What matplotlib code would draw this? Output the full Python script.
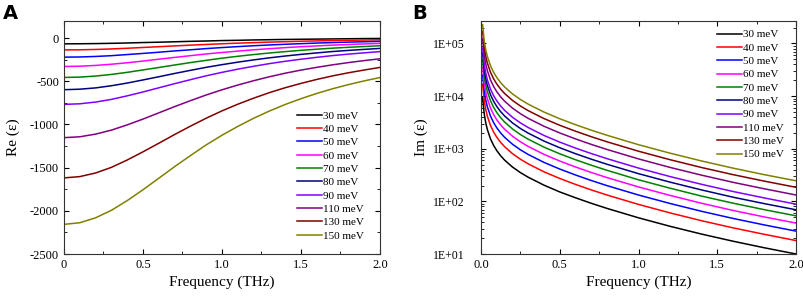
import numpy as np
from matplotlib import pyplot as plt
from matplotlib.ticker import MultipleLocator, LogLocator, FuncFormatter

plt.rcParams['font.family'] = ['Liberation Serif', 'DejaVu Serif']

# Fermi energies (legend labels)
labels = ['30 meV', '40 meV', '50 meV', '60 meV', '70 meV',
          '80 meV', '90 meV', '110 meV', '130 meV', '150 meV']
colors = ['#000000', '#ff0000', '#0000ff', '#ff00ff', '#008000',
          '#000080', '#8000ff', '#800080', '#800000', '#808000']

# Panel A: Re(eps) vs frequency (THz)
freq_re = [0.0, 0.1, 0.2, 0.3, 0.4, 0.5, 0.6, 0.7, 0.8, 0.9, 1.0,
           1.1, 1.2, 1.3, 1.4, 1.5, 1.6, 1.7, 1.8, 1.9, 2.0]
re_30 = [-67, -66, -64, -61, -57, -52, -48, -43, -38, -34, -29, -26, -22, -19, -16, -14, -12, -10, -8, -6, -5]
re_40 = [-137, -136, -132, -126, -118, -109, -100, -91, -82, -74, -66, -59, -53, -47, -42, -37, -33, -29, -26, -23, -20]
re_50 = [-221, -219, -213, -204, -191, -178, -164, -149, -136, -122, -110, -99, -89, -80, -72, -65, -58, -52, -47, -43, -38]
re_60 = [-329, -326, -317, -303, -286, -266, -245, -224, -204, -184, -167, -151, -136, -123, -111, -100, -91, -82, -75, -68, -62]
re_70 = [-456, -452, -440, -421, -397, -369, -341, -312, -284, -258, -233, -211, -191, -173, -157, -142, -129, -117, -107, -98, -89]
re_80 = [-598, -592, -577, -552, -521, -485, -448, -410, -374, -339, -308, -279, -253, -229, -208, -189, -172, -156, -143, -131, -120]
re_90 = [-768, -761, -741, -710, -669, -624, -576, -528, -482, -437, -397, -360, -327, -296, -269, -245, -223, -203, -186, -171, -157]
re_110 = [-1153, -1143, -1112, -1066, -1005, -938, -866, -794, -725, -659, -599, -544, -494, -448, -407, -371, -339, -310, -284, -261, -240]
re_130 = [-1619, -1604, -1562, -1497, -1412, -1317, -1218, -1117, -1020, -928, -843, -766, -696, -632, -575, -525, -479, -438, -402, -370, -340]
re_150 = [-2157, -2138, -2081, -1994, -1882, -1756, -1623, -1489, -1361, -1237, -1125, -1023, -929, -845, -769, -702, -641, -587, -539, -496, -457]

# Panel B: Im(eps) vs frequency (THz), log scale
freq_im = [0.01, 0.02, 0.03, 0.04, 0.06, 0.08, 0.1, 0.125, 0.15, 0.2, 0.25, 0.3,
           0.4, 0.5, 0.6, 0.7, 0.8, 1.0, 1.2, 1.4, 1.6, 1.8, 2.0]
im_30 = [9290, 4644, 3095, 2320, 1543, 1155, 921, 733, 607, 448, 352, 287, 203, 151, 117, 91.9, 73.5, 48.7, 33.6, 23.9, 17.5, 13.1, 10.0]
im_40 = [16700, 8344, 5560, 4167, 2773, 2075, 1655, 1317, 1091, 805, 632, 515, 364, 272, 210, 165, 132, 87.5, 60.4, 42.9, 31.4, 23.6, 18.0]
im_50 = [25200, 12595, 8393, 6290, 4186, 3132, 2498, 1988, 1646, 1216, 954, 777, 550, 411, 317, 249, 199, 132, 91.2, 64.8, 47.4, 35.6, 27.2]
im_60 = [35800, 17896, 11925, 8938, 5947, 4450, 3550, 2824, 2339, 1728, 1355, 1104, 781, 584, 450, 354, 283, 188, 130, 92.1, 67.3, 50.5, 38.7]
im_70 = [49140, 24561, 16366, 12266, 8162, 6107, 4872, 3876, 3210, 2371, 1860, 1515, 1072, 801, 618, 486, 389, 257, 178, 126, 92.4, 69.4, 53.1]
im_80 = [64050, 32013, 21332, 15988, 10638, 7961, 6350, 5052, 4185, 3090, 2425, 1975, 1398, 1044, 805, 633, 507, 336, 232, 165, 120, 90.4, 69.2]
im_90 = [81900, 40934, 27277, 20444, 13603, 10179, 8120, 6460, 5351, 3951, 3101, 2525, 1787, 1335, 1029, 810, 648, 429, 296, 211, 154, 116, 88.5]
im_110 = [122000, 61139, 40740, 30535, 20318, 15203, 12128, 9649, 7992, 5902, 4631, 3772, 2670, 1994, 1537, 1209, 968, 641, 442, 315, 230, 173, 132]
im_130 = [171000, 85595, 57036, 42749, 28445, 21285, 16979, 13508, 11189, 8263, 6483, 5280, 3738, 2791, 2152, 1693, 1355, 897, 619, 440, 322, 242, 185]
im_150 = [228000, 113829, 75850, 56850, 37827, 28305, 22579, 17964, 14879, 10988, 8622, 7022, 4970, 3712, 2862, 2251, 1802, 1193, 824, 586, 428, 321, 246]

re_all = [re_30, re_40, re_50, re_60, re_70, re_80, re_90, re_110, re_130, re_150]
im_all = [im_30, im_40, im_50, im_60, im_70, im_80, im_90, im_110, im_130, im_150]

fig = plt.figure(figsize=(8.04, 2.99), dpi=100)
axA = fig.add_axes([0.0796, 0.1505, 0.393, 0.780])
axB = fig.add_axes([0.5983, 0.1505, 0.3918, 0.780])

for ys, c, lab in zip(re_all, colors, labels):
    axA.plot(freq_re, ys, color=c, lw=1.1, label=lab)
for ys, c, lab in zip(im_all, colors, labels):
    axB.plot(freq_im, ys, color=c, lw=1.1, label=lab)

# panel A axes
axA.set_xlim(0, 2.0)
axA.set_ylim(-2500, 200)
axA.xaxis.set_major_locator(MultipleLocator(0.5))
axA.xaxis.set_minor_locator(MultipleLocator(0.25))
axA.yaxis.set_major_locator(MultipleLocator(500))
axA.yaxis.set_minor_locator(MultipleLocator(250))
axA.xaxis.set_major_formatter(FuncFormatter(lambda v, p: '0' if v == 0 else f'{v:.1f}'))
axA.yaxis.set_major_formatter(FuncFormatter(lambda v, p: f'{int(v)}'))
axA.set_xlabel('Frequency (THz)', fontsize=11, labelpad=3)
axA.set_ylabel('Re (ε)', fontsize=11, labelpad=7)

# panel B axes
axB.set_yscale('log')
axB.set_xlim(0, 2.0)
axB.set_ylim(10, 2.7e5)
axB.xaxis.set_major_locator(MultipleLocator(0.5))
axB.xaxis.set_minor_locator(MultipleLocator(0.25))
axB.yaxis.set_major_locator(LogLocator(base=10, numticks=10))
axB.yaxis.set_minor_locator(LogLocator(base=10, subs=np.arange(2, 10), numticks=10))
axB.yaxis.set_major_formatter(FuncFormatter(lambda v, p: f'1E+{int(round(np.log10(v))):02d}'))
axB.xaxis.set_major_formatter(FuncFormatter(lambda v, p: f'{v:.1f}'))
axB.set_xlabel('Frequency (THz)', fontsize=11, labelpad=3)
axB.set_ylabel('Im (ε)', fontsize=11, labelpad=3)

for ax in (axA, axB):
    ax.tick_params(which='both', direction='in', top=True, right=True, labelsize=9)
    ax.tick_params(which='major', length=3.5, width=0.8)
    ax.tick_params(which='minor', length=2, width=0.6)
    for sp in ax.spines.values():
        sp.set_linewidth(0.8)
        sp.set_color('#333333')
axB.tick_params(axis='y', which='major', labelsize=8.5, pad=12)

leg_kw = dict(loc='upper left', frameon=False, fontsize=8, handlelength=2.25,
              handletextpad=0.15, labelspacing=0.32, borderpad=0, borderaxespad=0)
axA.legend(bbox_to_anchor=(0.736, 0.614), **leg_kw)
axB.legend(bbox_to_anchor=(0.748, 0.962), **leg_kw)

fig.text(0.004, 0.985, 'A', fontsize=14, fontweight='bold', family='DejaVu Sans', va='top')
fig.text(0.513, 0.985, 'B', fontsize=14, fontweight='bold', family='DejaVu Sans', va='top')

fig.savefig('out.png', dpi=100)
